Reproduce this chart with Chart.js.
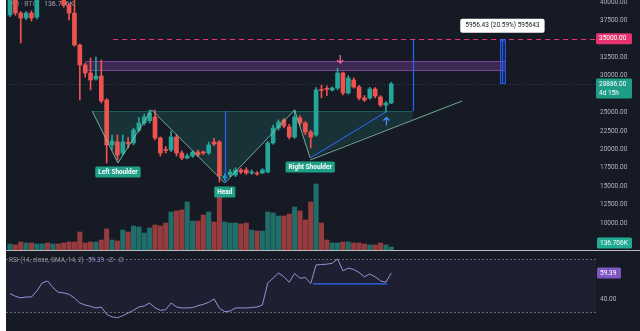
<!DOCTYPE html>
<html>
<head>
<meta charset="utf-8">
<script src="https://cdn.jsdelivr.net/npm/chart.js"></script>
<style>
  html, body { margin: 0; padding: 0; background: #ffffff; }
  #wrap { position: relative; width: 640px; height: 331px; overflow: hidden; }
  #pane { position: absolute; left: 6px; top: 0; width: 634px; height: 331px; background: #161a25; }
  #priceCanvas { position: absolute; left: 0; top: -8px; }
  #rsiCanvas { position: absolute; left: 0; top: 243px; }
</style>
</head>
<body>
<div id="wrap">
  <div id="pane"></div>
  <canvas id="priceCanvas" width="640" height="266"></canvas>
  <canvas id="rsiCanvas" width="640" height="88"></canvas>
</div>
<script>
// one entry per candle, index 0..71
const opens = [38240, 41000, 38500, 37830, 38500, 37960, 41300, 42100, 41500, 41800,
  41000, 39590, 38500, 34170, 31450, 30370, 29550, 29960, 26700, 20600,
  21000, 19510, 20870, 20870, 22630, 23580, 23900, 24390, 21550, 19920,
  19920, 21680, 19510, 18830, 19100, 19640, 19640, 19510, 21000, 21000,
  16120, 16520, 16520, 17200, 17200, 16800, 16800, 16800, 16930, 20870,
  22900, 23990, 23040, 21680, 24260, 23580, 22360, 21950, 28060, 28190,
  28060, 28330, 30370, 27650, 29420, 28470, 26970, 26970, 28190, 27110,
  26020, 26290];
const highs = [41500, 41300, 38700, 38700, 38800, 41600, 42600, 42800, 42300, 42000,
  41200, 39800, 40500, 34300, 31700, 32400, 32540, 32130, 26900, 21950,
  21950, 21950, 21600, 22900, 24300, 24800, 25340, 25340, 21700, 20400,
  22500, 22000, 19800, 19400, 19800, 19900, 19800, 21000, 21500, 21200,
  16700, 17300, 17500, 17400, 17500, 17200, 17000, 17400, 21100, 23300,
  24000, 24200, 23400, 25340, 24600, 23800, 22600, 28400, 28700, 28600,
  28500, 31000, 30500, 30000, 29700, 28700, 27300, 28400, 28400, 27300,
  26500, 29100];
const lows = [38000, 38200, 34440, 37600, 37420, 37700, 41000, 41200, 41100, 40600,
  39300, 37560, 34000, 26700, 29800, 28060, 29400, 26300, 18150, 19920,
  18560, 19240, 20200, 20600, 22360, 23300, 23600, 21300, 19100, 19500,
  19700, 19100, 18600, 18700, 18900, 19000, 19300, 19300, 20500, 15570,
  15800, 16300, 16300, 16700, 16600, 16600, 16500, 16700, 16800, 20700,
  22600, 22900, 21400, 21500, 23300, 22000, 20190, 21800, 27000, 27300,
  27900, 28100, 27400, 27500, 28300, 26700, 26500, 26800, 27000, 25800,
  25070, 26200];
const closes = [41000, 38500, 37830, 38500, 37830, 41300, 42100, 41500, 41800, 41000,
  39590, 38500, 34170, 31450, 30370, 29420, 29960, 26570, 20600, 21140,
  19240, 21000, 20800, 22630, 23580, 24390, 24940, 21550, 19510, 19850,
  21680, 19510, 18830, 19100, 19640, 19240, 19510, 20600, 20730, 16390,
  16390, 16930, 17200, 16930, 16800, 16850, 16660, 17200, 20870, 22900,
  23720, 23170, 21680, 24390, 23580, 22360, 21680, 28060, 28000, 28150,
  28330, 30370, 27650, 29690, 28470, 26970, 26700, 28190, 27240, 26020,
  26290, 28886];
// volume in thousands
const volumes = [270, 230, 365, 320, 320, 275, 275, 320, 275, 275,
  320, 365, 365, 820, 320, 365, 365, 455, 960, 455,
  410, 910, 820, 1095, 1050, 775, 1005, 1140, 1095, 1230,
  1735, 1780, 1825, 2190, 1320, 1320, 1595, 1735, 1275, 2415,
  1275, 1230, 1230, 1185, 1230, 910, 865, 865, 1735, 1690,
  1550, 1550, 1640, 1960, 1780, 1370, 2190, 3010, 1230, 455,
  320, 320, 365, 365, 320, 320, 275, 230, 230, 320,
  230, 136.706];
const rsiValues = [44, 42, 40.8, 41.5, 41.5, 46, 52, 53.4, 48.5, 45,
  44.5, 43.5, 40.7, 37, 35.5, 34.5, 33.3, 34, 28.5, 26.6,
  26, 27.5, 29.5, 31.5, 34, 34.8, 37, 33.5, 31.5, 32,
  37, 34, 33.3, 33.3, 33.5, 35, 36, 37.5, 40, 33,
  30.5, 31, 33.3, 33.3, 33.3, 33.6, 34, 35.5, 52, 55.5,
  59.4, 56.6, 52.5, 59, 55.5, 56, 51.5, 65.4, 65.7, 66,
  66.6, 69.9, 61, 63, 62, 59.8, 56.5, 58.7, 56.5, 53.5,
  52.5, 59.39];
const priceTicks = [10000, 12500, 15000, 17500, 20000, 22500, 25000, 27500, 30000, 32500, 35000, 37500, 40000];
const rsiTicks = [40];

// drawings on the price pane, in candle index / price units
const zoneFrom = 14, zoneTo = 92.2, zoneBottom = 30640, zoneTop = 31990;
const targetPrice = 35000, targetFrom = 19.2;
const neckline = 25200;
const patternPts = [[15.3, 25200], [20.1, 18150], [26.4, 25350], [40, 15440], [53, 25350], [55.9, 18830]];
const risingLine = [[55.9, 18830], [84.2, 26570]];
const supportLine = [[55.9, 18830], [70, 25070]];
const patternEnd = 75;
const patternLabels = [['Left Shoulder', 20.1, 18150], ['Head', 40, 15440], ['Right Shoulder', 55.9, 18830]];
const measureAt = 91.7, measureBase = 28929, measureDelta = 5956.43;
const rsiLine = [[56.4, 51.2], [70.2, 51.2]];

const UP = '#26a69a', DOWN = '#ef5350';
const FONT = 'Roboto, "Noto Sans", sans-serif';
const idx = opens.map((_, i) => i);
const isUp = i => closes[i] >= opens[i];

const xRange = { min: -0.745, max: 109.125 };

function roundRect(ctx, x, y, w, h, r) {
  ctx.beginPath();
  ctx.moveTo(x + r, y);
  ctx.arcTo(x + w, y, x + w, y + h, r);
  ctx.arcTo(x + w, y + h, x, y + h, r);
  ctx.arcTo(x, y + h, x, y, r);
  ctx.arcTo(x, y, x + w, y, r);
  ctx.closePath();
}

function axisBox(ctx, left, cy, w, h, fill, lines) {
  ctx.fillStyle = fill;
  roundRect(ctx, left, cy - 5.5, w, h, 1.5);
  ctx.fill();
  ctx.fillStyle = '#ffffff';
  ctx.font = '6.5px ' + FONT;
  ctx.textAlign = 'left';
  ctx.textBaseline = 'middle';
  lines.forEach((t, k) => ctx.fillText(t, left + 3, cy + k * 9));
}

const priceOverlay = {
  id: 'priceOverlay',
  beforeDatasetsDraw(chart) {
    const { ctx, chartArea: a, scales: { x, y } } = chart;
    const X = v => x.getPixelForValue(v), Y = v => y.getPixelForValue(v);
    ctx.save();
    ctx.beginPath(); ctx.rect(a.left, a.top, a.right - a.left, a.bottom - a.top); ctx.clip();

    ctx.font = '7px ' + FONT;
    ctx.textBaseline = 'middle';
    ctx.fillStyle = '#8c8f99';
    ctx.fillText('Vol · BTC', a.left + 3, a.top + 4);
    ctx.fillStyle = '#a3a6af';
    ctx.fillText('136.706K', a.left + 38, a.top + 4);

    // last price line
    ctx.strokeStyle = 'rgba(120, 123, 134, 0.35)';
    ctx.setLineDash([1, 2]);
    ctx.beginPath();
    ctx.moveTo(a.left, Math.round(Y(closes[closes.length - 1])) + 0.5);
    ctx.lineTo(a.right, Math.round(Y(closes[closes.length - 1])) + 0.5);
    ctx.stroke();
    ctx.setLineDash([]);

    // resistance zone
    const zx1 = X(zoneFrom), zx2 = X(zoneTo), zy1 = Y(zoneTop), zy2 = Y(zoneBottom);
    ctx.fillStyle = 'rgba(140, 70, 180, 0.33)';
    ctx.fillRect(zx1, zy1, zx2 - zx1, zy2 - zy1);
    ctx.strokeStyle = 'rgba(160, 90, 190, 0.6)';
    ctx.lineWidth = 1;
    ctx.beginPath();
    ctx.moveTo(zx1, Math.round(zy1) + 0.5); ctx.lineTo(zx2, Math.round(zy1) + 0.5);
    ctx.moveTo(zx1, Math.round(zy2) - 0.5); ctx.lineTo(zx2, Math.round(zy2) - 0.5);
    ctx.stroke();

    // head & shoulders fill
    const [r0, r1] = risingLine;
    const rAtEnd = r0[1] + (patternEnd - r0[0]) / (r1[0] - r0[0]) * (r1[1] - r0[1]);
    ctx.fillStyle = 'rgba(34, 171, 148, 0.17)';
    ctx.beginPath();
    patternPts.forEach(([i, p], k) => k ? ctx.lineTo(X(i), Y(p)) : ctx.moveTo(X(i), Y(p)));
    ctx.lineTo(X(patternEnd), Y(rAtEnd));
    ctx.lineTo(X(patternEnd), Y(neckline));
    ctx.closePath();
    ctx.fill();
    ctx.strokeStyle = 'rgba(34, 171, 148, 0.35)';
    ctx.beginPath();
    ctx.moveTo(X(patternPts[0][0]), Math.round(Y(neckline)) + 0.5);
    ctx.lineTo(X(patternEnd), Math.round(Y(neckline)) + 0.5);
    ctx.stroke();
    ctx.restore();
  },
  afterDatasetsDraw(chart) {
    const { ctx, chartArea: a, scales: { x, y } } = chart;
    const X = v => x.getPixelForValue(v), Y = v => y.getPixelForValue(v);
    ctx.save();
    ctx.beginPath(); ctx.rect(a.left, a.top, a.right - a.left, a.bottom - a.top); ctx.clip();

    // pattern legs
    ctx.strokeStyle = 'rgba(140, 205, 175, 0.8)';
    ctx.lineWidth = 1;
    ctx.beginPath();
    patternPts.forEach(([i, p], k) => k ? ctx.lineTo(X(i), Y(p)) : ctx.moveTo(X(i), Y(p)));
    ctx.stroke();
    ctx.beginPath();
    ctx.moveTo(X(risingLine[0][0]), Y(risingLine[0][1]) + 2);
    ctx.lineTo(X(risingLine[1][0]), Y(risingLine[1][1]));
    ctx.stroke();
    ctx.strokeStyle = '#2f6bff';
    ctx.beginPath();
    ctx.moveTo(X(supportLine[0][0]), Y(supportLine[0][1]));
    ctx.lineTo(X(supportLine[1][0]), Y(supportLine[1][1]));
    ctx.stroke();

    // head depth and projected target
    ctx.strokeStyle = '#2962ff';
    ctx.lineWidth = 1.2;
    ctx.beginPath();
    ctx.moveTo(Math.round(X(40)) + 0.5, Y(neckline));
    ctx.lineTo(Math.round(X(40)) + 0.5, Y(15440));
    ctx.moveTo(Math.round(X(patternEnd)) + 0.5, Y(neckline));
    ctx.lineTo(Math.round(X(patternEnd)) + 0.5, Y(targetPrice));
    ctx.stroke();

    // target level
    ctx.strokeStyle = '#f0336f';
    ctx.lineWidth = 1;
    ctx.setLineDash([5, 4]);
    ctx.beginPath();
    ctx.moveTo(X(targetFrom), Math.round(Y(targetPrice)) + 0.5);
    ctx.lineTo(a.right, Math.round(Y(targetPrice)) + 0.5);
    ctx.stroke();
    ctx.setLineDash([]);

    // price range measure
    const mx = X(measureAt), mTop = Y(measureBase + measureDelta), mBot = Y(measureBase);
    ctx.fillStyle = 'rgba(41, 98, 255, 0.22)';
    ctx.fillRect(mx - 2.5, mTop, 5, mBot - mTop);
    ctx.strokeStyle = 'rgba(41, 98, 255, 0.85)';
    ctx.strokeRect(Math.round(mx - 2.5) + 0.5, mTop, 5, mBot - mTop);
    ctx.beginPath();
    ctx.moveTo(Math.round(mx) + 0.5, mBot);
    ctx.lineTo(Math.round(mx) + 0.5, mTop);
    ctx.moveTo(mx - 2, mTop + 3); ctx.lineTo(mx + 0.5, mTop); ctx.lineTo(mx + 3, mTop + 3);
    ctx.stroke();
    const mText = measureDelta.toFixed(2) + ' (' + (measureDelta / measureBase * 100).toFixed(2) + '%) 595643';
    ctx.font = '6.5px ' + FONT;
    const tw = ctx.measureText(mText).width + 10;
    ctx.fillStyle = '#ffffff';
    roundRect(ctx, mx - tw / 2, mTop - 21, tw, 14, 2);
    ctx.fill();
    ctx.fillStyle = '#131722';
    ctx.textAlign = 'center';
    ctx.textBaseline = 'middle';
    ctx.fillText(mText, mx, mTop - 14);

    // signal arrows
    const arrow = (i, p, dir, color) => {
      const ax = X(i), ay = Y(p);
      ctx.strokeStyle = color;
      ctx.lineWidth = 1.3;
      ctx.beginPath();
      ctx.moveTo(ax, ay - dir * 8); ctx.lineTo(ax, ay);
      ctx.moveTo(ax - 3, ay - dir * 3); ctx.lineTo(ax, ay); ctx.lineTo(ax + 3, ay - dir * 3);
      ctx.stroke();
    };
    arrow(61.5, 31720, 1, '#f06292');
    arrow(70.1, 24330, -1, '#448aff');

    // pattern labels
    ctx.font = 'bold 6.5px ' + FONT;
    patternLabels.forEach(([t, i, p]) => {
      const lx = X(i), ly = Y(p) + 9;
      const w = ctx.measureText(t).width + 6;
      ctx.fillStyle = '#1f9e88';
      roundRect(ctx, lx - w / 2, ly - 5.5, w, 11, 1.5);
      ctx.fill();
      ctx.fillStyle = '#ffffff';
      ctx.fillText(t, lx, ly + 0.5);
    });
    ctx.restore();
  },
  afterDraw(chart) {
    const { ctx, chartArea: a, scales: { y, yv } } = chart;
    ctx.save();
    axisBox(ctx, a.right, y.getPixelForValue(targetPrice), 36, 11, '#e6336f', ['35000.00']);
    axisBox(ctx, a.right, y.getPixelForValue(closes[closes.length - 1]), 36, 20, '#1e9e87',
      [closes[closes.length - 1].toFixed(2), '4d 15h']);
    const vy = Math.min(yv.getPixelForValue(volumes[volumes.length - 1]), a.bottom - 7);
    axisBox(ctx, a.right + 1, vy, 35, 11, '#22ab94', ['136.706K']);
    ctx.strokeStyle = 'rgba(215, 217, 224, 0.85)';
    ctx.lineWidth = 1;
    ctx.beginPath();
    ctx.moveTo(a.left, a.bottom + 0.5);
    ctx.lineTo(chart.width, a.bottom + 0.5);
    ctx.stroke();
    ctx.restore();
  }
};

const rsiOverlay = {
  id: 'rsiOverlay',
  beforeDatasetsDraw(chart) {
    const { ctx, chartArea: a, scales: { y } } = chart;
    const y70 = Math.round(y.getPixelForValue(70)) + 0.5, y30 = Math.round(y.getPixelForValue(30)) + 0.5;
    ctx.save();
    ctx.fillStyle = 'rgba(126, 87, 194, 0.09)';
    ctx.fillRect(a.left, y70, a.right - a.left, y30 - y70);
    ctx.strokeStyle = 'rgba(120, 123, 134, 0.8)';
    ctx.lineWidth = 1;
    ctx.setLineDash([2, 2]);
    ctx.beginPath();
    ctx.moveTo(a.left, y70); ctx.lineTo(a.right, y70);
    ctx.moveTo(a.left, y30); ctx.lineTo(a.right, y30);
    ctx.stroke();
    ctx.setLineDash([]);

    ctx.font = '6.5px ' + FONT;
    ctx.textBaseline = 'middle';
    ctx.textAlign = 'left';
    let tx = a.left + 3;
    const ty = a.top + 9;
    const parts = [['RSI (14, close, SMA, 14, 2)', '#9598a1'], ['59.39', '#9d8fd6'], ['∅', '#9598a1'], ['∅', '#9598a1']];
    parts.forEach(([t, c]) => {
      ctx.fillStyle = c;
      ctx.fillText(t, tx, ty);
      tx += ctx.measureText(t).width + 4;
    });
    ctx.restore();
  },
  afterDatasetsDraw(chart) {
    const { ctx, scales: { x, y } } = chart;
    ctx.save();
    ctx.strokeStyle = '#2f6bff';
    ctx.lineWidth = 1.2;
    ctx.beginPath();
    ctx.moveTo(x.getPixelForValue(rsiLine[0][0]), y.getPixelForValue(rsiLine[0][1]));
    ctx.lineTo(x.getPixelForValue(rsiLine[1][0]), y.getPixelForValue(rsiLine[1][1]));
    ctx.stroke();
    ctx.restore();
  },
  afterDraw(chart) {
    const { ctx, chartArea: a, scales: { y } } = chart;
    ctx.save();
    axisBox(ctx, a.right + 1, y.getPixelForValue(rsiValues[rsiValues.length - 1]), 24, 11, '#7e57c2',
      [rsiValues[rsiValues.length - 1].toFixed(2)]);
    ctx.restore();
  }
};

const rightAxis = (extra) => Object.assign({
  position: 'right',
  grid: { display: false, drawTicks: false },
  border: { display: false },
  afterFit: s => { s.width = 44; },
  ticks: { padding: 4, autoSkip: false, color: '#b2b5be', font: { family: FONT, size: 6.5 }, callback: v => v.toFixed(2) }
}, extra);

new Chart(document.getElementById('priceCanvas'), {
  type: 'bar',
  data: {
    datasets: [
      {
        label: 'Volume',
        yAxisID: 'yv',
        data: idx.map(i => ({ x: i, y: volumes[i] })),
        backgroundColor: idx.map(i => isUp(i) ? 'rgba(38, 166, 154, 0.6)' : 'rgba(239, 83, 80, 0.6)'),
        barThickness: 4.4,
        grouped: false,
        order: 3
      },
      {
        label: 'Wick',
        yAxisID: 'y',
        data: idx.map(i => ({ x: i, y: [lows[i], highs[i]] })),
        backgroundColor: idx.map(i => isUp(i) ? UP : DOWN),
        barThickness: 1,
        grouped: false,
        order: 2
      },
      {
        label: 'Body',
        yAxisID: 'y',
        data: idx.map(i => ({ x: i, y: [opens[i], closes[i]] })),
        backgroundColor: idx.map(i => isUp(i) ? UP : DOWN),
        barThickness: 4,
        minBarLength: 1,
        grouped: false,
        order: 1
      }
    ]
  },
  options: {
    responsive: false,
    animation: false,
    events: [],
    layout: { padding: { left: 6, top: 8, bottom: 8, right: 0 } },
    plugins: { legend: { display: false }, tooltip: { enabled: false } },
    scales: {
      x: { type: 'linear', display: false, offset: false, min: xRange.min, max: xRange.max },
      y: rightAxis({
        min: 6346, max: 40271,
        afterBuildTicks: s => { s.ticks = priceTicks.map(v => ({ value: v })); }
      }),
      yv: { display: false, min: 0, max: 11400 }
    }
  },
  plugins: [priceOverlay]
});

new Chart(document.getElementById('rsiCanvas'), {
  type: 'line',
  data: {
    datasets: [{
      label: 'RSI',
      data: idx.map(i => ({ x: i, y: rsiValues[i] })),
      borderColor: '#9d8fd6',
      borderWidth: 1,
      pointRadius: 0,
      tension: 0
    }]
  },
  options: {
    responsive: false,
    animation: false,
    events: [],
    layout: { padding: { left: 6, top: 8, bottom: 11, right: 0 } },
    plugins: { legend: { display: false }, tooltip: { enabled: false } },
    scales: {
      x: { type: 'linear', display: false, offset: false, min: xRange.min, max: xRange.max },
      y: rightAxis({
        min: 24.3, max: 75.8,
        afterBuildTicks: s => { s.ticks = rsiTicks.map(v => ({ value: v })); }
      })
    }
  },
  plugins: [rsiOverlay]
});
</script>
</body>
</html>
